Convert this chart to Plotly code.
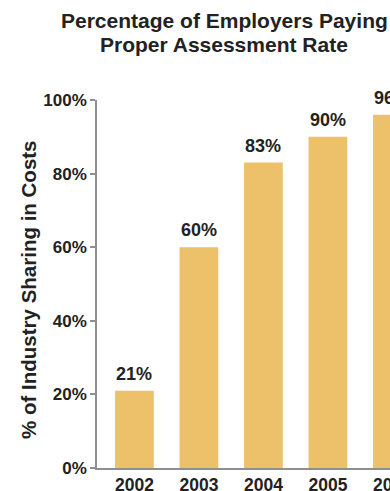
import plotly.graph_objects as go

# Share of employers paying the proper assessment rate, by year
years = ["2002", "2003", "2004", "2005", "2006"]
shares = [21, 60, 83, 90, 96]
y_ticks = [0, 20, 40, 60, 80, 100]
y_tick_labels = ["0%", "20%", "40%", "60%", "80%", "100%"]
title_lines = ["Percentage of Employers Paying", "Proper Assessment Rate"]
y_caption = "% of Industry Sharing in Costs"

BAR = "#EDC06A"
INK = "#222222"
AXIS = "#8f8f8f"
FONT = "Liberation Sans"

W, H = 430, 491
L, T, B = 97, 100, 23
plot_w = W - L

fig = go.Figure()
fig.add_trace(
    go.Bar(
        x=years,
        y=shares,
        marker=dict(color=BAR, line=dict(width=0)),
        hoverinfo="skip",
    )
)

# value labels just above each bar (category index on the x axis)
for i, v in enumerate(shares):
    fig.add_annotation(
        x=i, y=v, xref="x", yref="y",
        text=f"<b>{v}%</b>", showarrow=False,
        xanchor="center", yanchor="bottom", yshift=5,
        font=dict(family=FONT, size=18, color=INK),
    )

# two-line heading, centred at x = 224 px
for line, ytop in zip(title_lines, [20.5, 44.5]):
    fig.add_annotation(
        xref="paper", yref="paper", x=(224 - L) / plot_w, y=(468 - ytop) / 368,
        text=f"<b>{line}</b>", showarrow=False,
        xanchor="center", yanchor="middle",
        font=dict(family=FONT, size=21, color=INK),
    )

# rotated y-axis caption
fig.add_annotation(
    xref="paper", yref="paper", x=(29 - L) / plot_w, y=0.484,
    text=f"<b>{y_caption}</b>", textangle=-90,
    showarrow=False, xanchor="center", yanchor="middle",
    font=dict(family=FONT, size=20.5, color=INK),
)

fig.update_layout(
    width=W, height=H,
    margin=dict(l=L, r=0, t=T, b=B, autoexpand=False),
    paper_bgcolor="white", plot_bgcolor="white",
    bargap=0.4,
    showlegend=False,
    xaxis=dict(
        type="category", range=[-0.58, -0.58 + plot_w / 64.5],
        tickvals=years, ticktext=[f"<b>{y}</b>" for y in years],
        showline=True, linecolor=AXIS, linewidth=1.5,
        ticks="", showgrid=False, zeroline=False,
        tickfont=dict(family=FONT, size=17.5, color=INK),
        automargin=False, ticklabelstandoff=0,
    ),
    yaxis=dict(
        range=[0, 100], tickvals=y_ticks,
        ticktext=[f"<b>{t}</b>" for t in y_tick_labels],
        showline=True, linecolor=AXIS, linewidth=1.5,
        ticks="outside", ticklen=5, tickcolor=AXIS, tickwidth=1.5,
        showgrid=False, zeroline=False,
        tickfont=dict(family=FONT, size=17, color=INK),
        automargin=False,
    ),
)

fig.write_html("out.html")
